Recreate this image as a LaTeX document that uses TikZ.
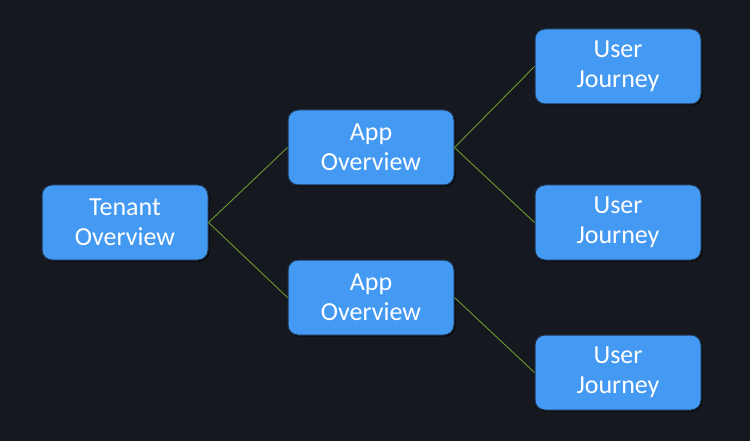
\documentclass[tikz,border=0pt]{standalone}
\usepackage{fontspec}
\setmainfont{Carlito}
\usetikzlibrary{shadows}
\definecolor{bg}{HTML}{15181F}
\definecolor{boxfill}{HTML}{4499F3}
\definecolor{boxline}{HTML}{1E3550}
\definecolor{linkc}{HTML}{6A9A30}
\tikzset{
  card/.style={rectangle, rounded corners=10pt, fill=boxfill, draw=boxline, line width=1pt,
    minimum width=166pt, minimum height=75pt, text=white, align=center,
    font=\fontsize{26}{30}\selectfont,
    drop shadow={shadow xshift=1.5pt, shadow yshift=-1.5pt, fill=black, opacity=0.6}},
  link/.style={draw=linkc, line width=0.9pt}
}
\begin{document}
\begin{tikzpicture}[x=1pt,y=-1pt]
\fill[bg] (0,0) rectangle (750,441);
\useasboundingbox (0,0) rectangle (750,441);
\node[card] (tenant) at (125,222.5) {Tenant\\Overview};
\node[card] (app1) at (371,147.5) {App\\Overview};
\node[card] (app2) at (371,297.5) {App\\Overview};
\node[card] (u1) at (618,66.5) {User\\Journey};
\node[card] (u2) at (618,222.5) {User\\Journey};
\node[card] (u3) at (618,372.5) {User\\Journey};
\draw[link] (tenant.east) -- (app1.west);
\draw[link] (tenant.east) -- (app2.west);
\draw[link] (app1.east) -- (u1.west);
\draw[link] (app1.east) -- (u2.west);
\draw[link] (app2.east) -- (u3.west);
\end{tikzpicture}
\end{document}
